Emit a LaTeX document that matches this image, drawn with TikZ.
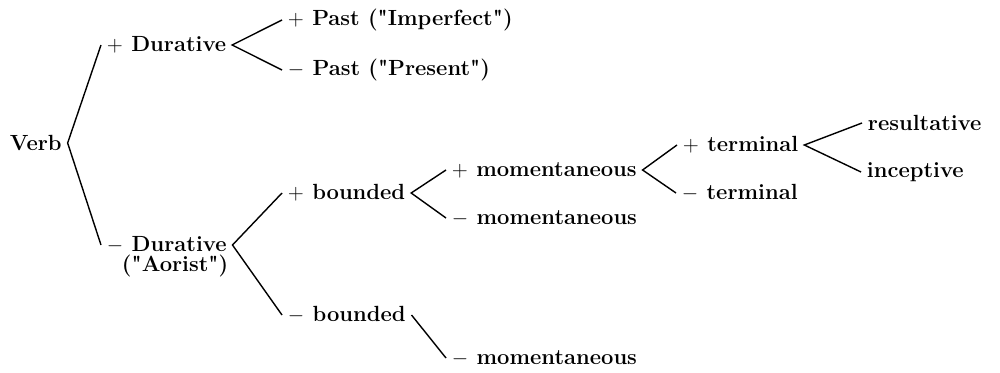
\documentclass[tikz,border=0pt]{standalone}
\usepackage{fontspec}
\setmainfont{Latin Modern Roman}[Ligatures=TeXOff]

\begin{document}
\begin{tikzpicture}[x=0.02cm, y=-0.02cm, inner sep=3pt, thick,
    font=\fontsize{12.5}{14}\selectfont\bfseries]
  \useasboundingbox (0,0) rectangle (1000,372);
  \path node (Verb) at (  4,143) [anchor=west] {Verb}
        node (DurP) at (101, 45) [anchor=west] {$+$ Durative}
        node (DurN) at (101,245) [anchor=west] {$-$ Durative}
        node (Aor)  at (116,266) [anchor=west] {("Aorist")}
        node (PstP) at (282, 20) [anchor=west] {$+$ Past ("Imperfect")}
        node (PstN) at (282, 70) [anchor=west] {$-$ Past ("Present")}
        node (BndP) at (282,193) [anchor=west] {$+$ bounded}
        node (BndN) at (282,315) [anchor=west] {$-$ bounded}
        node (MomP) at (446,170) [anchor=west] {$+$ momentaneous}
        node (MomN) at (446,218) [anchor=west] {$-$ momentaneous}
        node (MomB) at (446,358) [anchor=west] {$-$ momentaneous}
        node (TrmP) at (677,145) [anchor=west] {$+$ terminal}
        node (TrmN) at (676,193) [anchor=west] {$-$ terminal}
        node (Res)  at (862,123) [anchor=west] {resultative}
        node (Inc)  at (861,172) [anchor=west] {inceptive};
  \draw (DurP.west) -- (Verb.east) -- (DurN.west)
        (PstP.west) -- (DurP.east) -- (PstN.west)
        (BndP.west) -- (DurN.east) -- (BndN.west)
        (MomP.west) -- (BndP.east) -- (MomN.west)
        (BndN.east) -- (MomB.west)
        (TrmP.west) -- (MomP.east) -- (TrmN.west)
        (Res.west)  -- (TrmP.east) -- (Inc.west);
\end{tikzpicture}
\end{document}
